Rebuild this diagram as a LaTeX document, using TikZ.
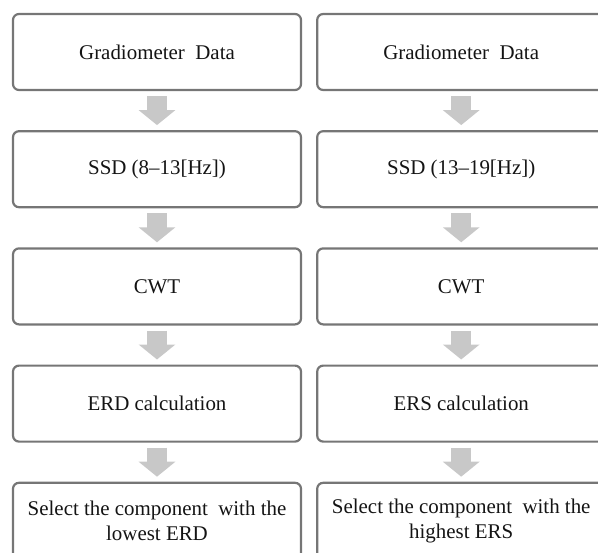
\documentclass[tikz,border=0pt]{standalone}
\usepackage{fontspec}
\setmainfont{Liberation Serif}
\usetikzlibrary{positioning,arrows.meta}
\definecolor{colorframe}{RGB}{118,118,118}
\definecolor{colorarrow}{RGB}{200,200,200}
\definecolor{colortext} {RGB}{20,20,20}

\begin{document}
\begin{tikzpicture}[
    x=1bp, y=-1bp,
    node distance = 39bp and 14bp,
    font={\fontsize{21}{25}\selectfont},
    base/.style={text=colortext,draw=colorframe,line width=2.2bp,rounded corners=6bp,
                 minimum width=288bp,minimum height=76bp,align=center,rectangle,inner sep=0pt},
    stage/.style={line width=20bp,draw=colorarrow,
                  -{Triangle[width=36bp,length=15bp,fill=colorarrow]}},
]
    \useasboundingbox (0,0) rectangle (598,553);
    \clip (0,0) rectangle (598,553);

    % Nodes
    \node[base] (gradA) at (157,52) {Gradiometer~ Data};
    \node[base,below=of gradA] (ssdA)  {SSD (8--13[Hz])};
    \node[base,below=of ssdA]  (cwtA)  {CWT};
    \node[base,below=of cwtA]  (erd)   {ERD calculation};
    \node[base,below=of erd]   (selA)  {Select the component~ with the\\lowest ERD};

    \node[base,right=of gradA] (gradB) {Gradiometer~ Data};
    \node[base,below=of gradB] (ssdB)  {SSD (13--19[Hz])};
    \node[base,below=of ssdB]  (cwtB)  {CWT};
    \node[base,below=of cwtB]  (ers)   {ERS calculation};
    \node[base,below=of ers]   (selB)  {Select the component~ with the\\highest ERS};

    % Arrows
    \draw[stage] ([yshift=-5bp]gradA.south) -- ([yshift=5bp]ssdA.north);
    \draw[stage] ([yshift=-5bp]ssdA.south)  -- ([yshift=5bp]cwtA.north);
    \draw[stage] ([yshift=-5bp]cwtA.south)  -- ([yshift=5bp]erd.north);
    \draw[stage] ([yshift=-5bp]erd.south)   -- ([yshift=5bp]selA.north);
    \draw[stage] ([yshift=-5bp]gradB.south) -- ([yshift=5bp]ssdB.north);
    \draw[stage] ([yshift=-5bp]ssdB.south)  -- ([yshift=5bp]cwtB.north);
    \draw[stage] ([yshift=-5bp]cwtB.south)  -- ([yshift=5bp]ers.north);
    \draw[stage] ([yshift=-5bp]ers.south)   -- ([yshift=5bp]selB.north);

\end{tikzpicture}
\end{document}
